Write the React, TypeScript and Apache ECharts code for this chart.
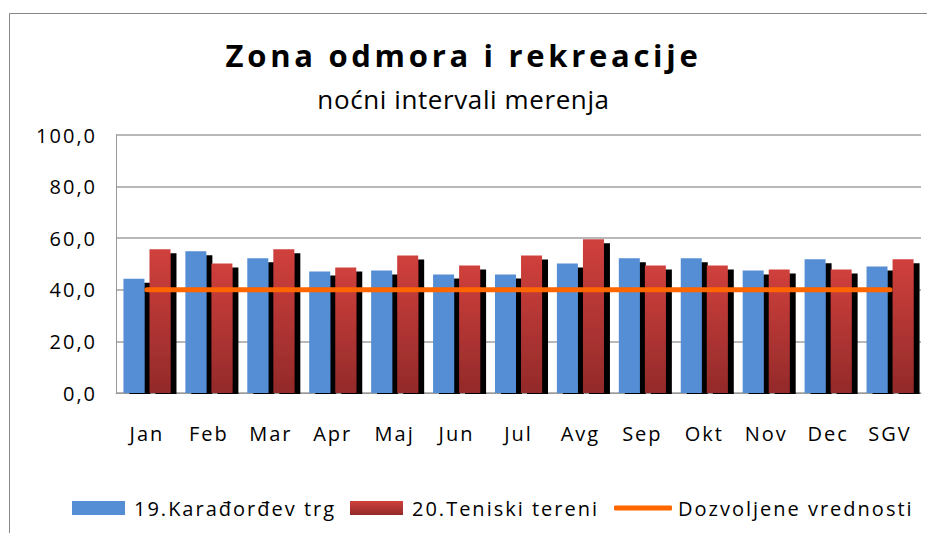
import React, { useEffect, useRef } from 'react';
import * as echarts from 'echarts';

const categories = ['Jan', 'Feb', 'Mar', 'Apr', 'Maj', 'Jun', 'Jul', 'Avg', 'Sep', 'Okt', 'Nov', 'Dec', 'SGV'];
const karadjordjevTrg = [44.3, 54.9, 52.2, 47.1, 47.5, 45.9, 45.9, 50.2, 52.2, 52.2, 47.5, 51.8, 49.0];
const teniskiTereni = [55.7, 50.2, 55.7, 48.6, 53.3, 49.4, 53.3, 59.6, 49.4, 49.4, 47.9, 47.9, 51.8];
const dozvoljeneVrednosti = [40, 40, 40, 40, 40, 40, 40, 40, 40, 40, 40, 40, 40];
const seriesNames = ['19.Karađorđev trg', '20.Teniski tereni', 'Dozvoljene vrednosti'];
const titleText = 'Zona odmora i rekreacije';
const subtitleText = 'noćni intervali merenja';
const yMin = 0;
const yMax = 100;
const yInterval = 20;

const FONT = '"Open Sans", "Liberation Sans", sans-serif';

export default function App() {
  const ref = useRef<HTMLDivElement>(null);

  useEffect(() => {
    document.body.style.margin = '0';
    const chart = echarts.init(ref.current!, null, { renderer: 'svg' });
    const redGradient = new echarts.graphic.LinearGradient(0, 0, 0, 1, [
      { offset: 0, color: '#D0403C' },
      { offset: 1, color: '#932A2A' },
    ]);
    const noShadow = { shadowColor: 'transparent', shadowOffsetX: 0, shadowOffsetY: 0, shadowBlur: 0 };
    chart.setOption({
      animation: false,
      textStyle: { fontFamily: FONT },
      title: [
        {
          text: titleText,
          left: 'center',
          top: 34,
          textStyle: { fontFamily: FONT, fontSize: 31, fontWeight: 'bold', color: '#000' },
        },
        {
          text: subtitleText,
          left: 'center',
          top: 81,
          textStyle: { fontFamily: FONT, fontSize: 26, fontWeight: 'normal', color: '#000' },
        },
      ],
      legend: [
        {
          data: [seriesNames[0]],
          left: 67,
          top: 493,
          icon: 'rect',
          itemWidth: 53,
          itemHeight: 14,
          itemStyle: noShadow,
          textStyle: { fontFamily: FONT, fontSize: 20, color: '#000', padding: [0, 0, 0, 4] },
        },
        {
          data: [seriesNames[1]],
          left: 345,
          top: 493,
          icon: 'rect',
          itemWidth: 53,
          itemHeight: 14,
          itemStyle: noShadow,
          textStyle: { fontFamily: FONT, fontSize: 20, color: '#000', padding: [0, 0, 0, 4] },
        },
        {
          data: [seriesNames[2]],
          left: 609,
          top: 493,
          icon: 'roundRect',
          itemWidth: 58,
          itemHeight: 5,
          itemStyle: { color: '#FF6600' },
          lineStyle: { width: 0 },
          textStyle: { fontFamily: FONT, fontSize: 20, color: '#000', padding: [0, 0, 0, 1] },
        },
      ],
      grid: { left: 116, right: 6, top: 135, bottom: 140 },
      xAxis: {
        type: 'category',
        data: categories,
        axisLine: { lineStyle: { color: '#999', width: 1 } },
        axisTick: { show: false },
        axisLabel: { fontFamily: FONT, fontSize: 20, color: '#000', margin: 30 },
      },
      yAxis: {
        type: 'value',
        min: yMin,
        max: yMax,
        interval: yInterval,
        axisLine: { show: true, lineStyle: { color: '#999', width: 1 } },
        axisTick: { show: false },
        splitLine: { lineStyle: { color: '#A0A0A0', width: 1.5 } },
        axisLabel: {
          fontFamily: FONT,
          fontSize: 20,
          color: '#000',
          margin: 19,
          formatter: (v: number) => v.toFixed(1).replace('.', ','),
        },
      },
      series: [
        {
          name: seriesNames[0],
          type: 'bar',
          data: karadjordjevTrg,
          barWidth: 21,
          barGap: '24%',
          itemStyle: {
            color: '#558ED5',
            shadowColor: '#000',
            shadowOffsetX: 6,
            shadowOffsetY: 4,
            shadowBlur: 0,
          },
        },
        {
          name: seriesNames[1],
          type: 'bar',
          data: teniskiTereni,
          barWidth: 21,
          barGap: '24%',
          itemStyle: {
            color: redGradient,
            shadowColor: '#000',
            shadowOffsetX: 6,
            shadowOffsetY: 4,
            shadowBlur: 0,
          },
        },
        {
          name: seriesNames[2],
          type: 'line',
          data: dozvoljeneVrednosti,
          symbol: 'none',
          z: 5,
          lineStyle: { color: '#FF6600', width: 5, cap: 'round' },
          itemStyle: { color: '#FF6600' },
        },
      ],
      graphic: [
        {
          type: 'rect',
          shape: { x: 116, y: 394, width: 811, height: 6 },
          style: { fill: '#fff' },
          z: 50,
        },
        {
          type: 'rect',
          shape: { x: 9.5, y: 13.5, width: 940, height: 540 },
          style: { fill: 'none', stroke: '#888', lineWidth: 1 },
          z: 60,
        },
      ],
    });
    return () => chart.dispose();
  }, []);

  return (
    <>
      <style>{`
        svg text[style*="31px"] { letter-spacing: 3.7px; }
        svg text[style*="26px"] { letter-spacing: 0.6px; }
        svg text[style*="20px"] { letter-spacing: 2px; }
      `}</style>
      <div ref={ref} style={{ width: 927, height: 533 }} />
    </>
  );
}
